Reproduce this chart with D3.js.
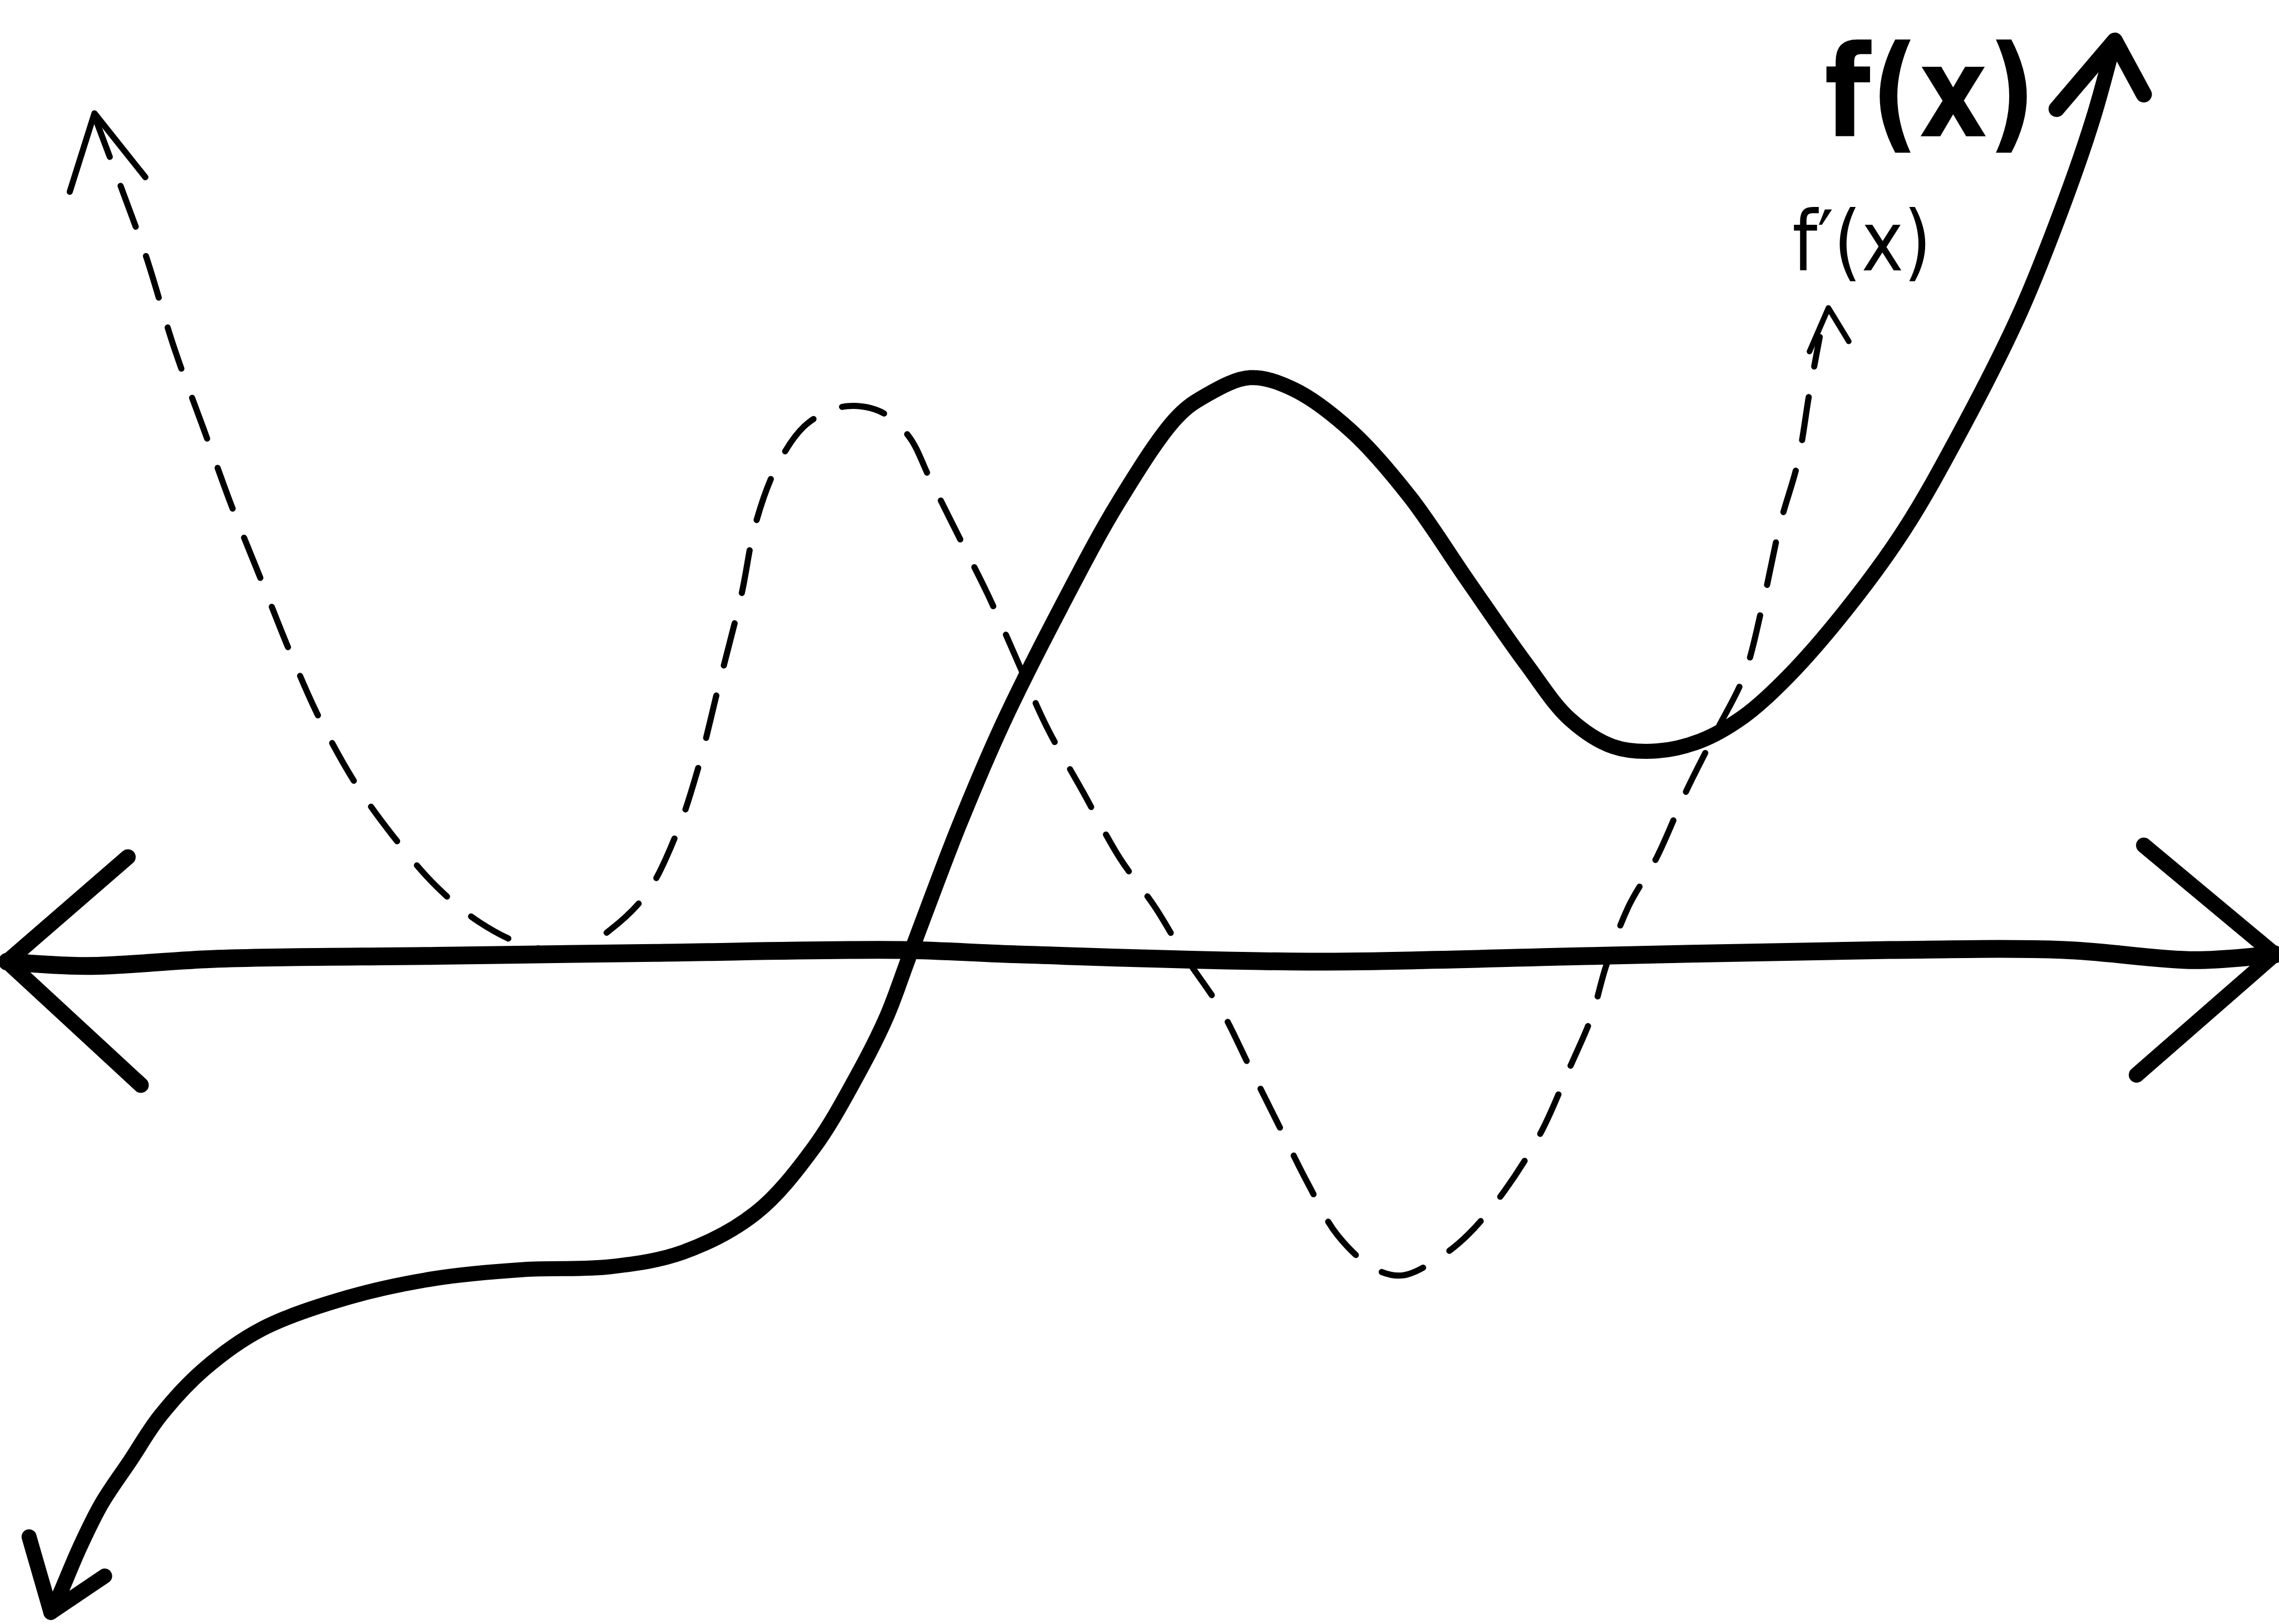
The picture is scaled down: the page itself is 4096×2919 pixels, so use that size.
<!DOCTYPE html>
<html>
<head>
<meta charset="utf-8">
<script src="https://cdn.jsdelivr.net/npm/d3@7"></script>
<style>
html,body{margin:0;padding:0;background:#fff;}
svg{display:block;}
</style>
</head>
<body>
<script>
// Data: sketch of a function f(x) and its derivative f'(x) (x-axis at y = 0)
const fX = [-5.90,-5.85,-5.70,-5.55,-5.35,-5.15,-4.85,-4.45,-3.85,-3.25,-2.65,-2.05,-1.55,-1.05,-0.65,-0.35,-0.15,0.00,0.15,0.35,0.65,1.05,1.45,1.85,2.05,2.35,2.65,3.05,3.45,3.85,4.25,4.55,4.85,5.15,5.45,5.75,6.05,6.45,6.85,7.25,7.65,7.95,8.15,8.28];
const fY = [-4.52,-4.42,-4.07,-3.77,-3.47,-3.17,-2.85,-2.57,-2.35,-2.22,-2.16,-2.14,-2.04,-1.77,-1.32,-0.82,-0.42,-0.02,0.38,0.90,1.60,2.40,3.13,3.71,3.86,3.98,3.90,3.61,3.16,2.58,2.01,1.63,1.44,1.41,1.48,1.65,1.92,2.38,2.93,3.63,4.43,5.18,5.76,6.23];

const dX = [-5.60,-5.45,-5.25,-5.05,-4.85,-4.65,-4.45,-4.25,-4.05,-3.80,-3.55,-3.25,-2.95,-2.65,-2.30,-2.05,-1.80,-1.60,-1.45,-1.30,-1.15,-1.05,-0.90,-0.70,-0.45,-0.20,0.00,0.15,0.35,0.55,0.75,0.95,1.20,1.45,1.70,1.90,2.15,2.35,2.55,2.75,2.95,3.20,3.40,3.65,3.85,4.10,4.35,4.55,4.70,4.80,4.95,5.15,5.35,5.55,5.75,5.88,6.00,6.12,6.20,6.27];
const dY = [5.78,5.38,4.83,4.18,3.63,3.08,2.58,2.08,1.63,1.18,0.83,0.48,0.23,0.08,0.03,0.18,0.43,0.83,1.28,1.88,2.48,2.98,3.38,3.66,3.78,3.75,3.58,3.28,2.88,2.48,2.03,1.58,1.13,0.68,0.33,0.00,-0.37,-0.77,-1.17,-1.57,-1.92,-2.15,-2.20,-2.08,-1.92,-1.62,-1.22,-0.77,-0.42,-0.07,0.33,0.68,1.13,1.53,1.93,2.43,2.98,3.40,3.88,4.26];

const axisX = [-6.20,-5.65,-4.75,-3.25,-1.75,-0.05,0.75,2.75,4.75,6.75,7.95,8.85,9.40];
const axisY = [-0.04,-0.07,-0.02,0.00,0.02,0.04,0.01,-0.04,0.00,0.04,0.04,-0.03,0.01];

// arrowheads: [barbA, tip, barbB]
const axisLeftHeadX = [-5.37,-6.20,-5.28], axisLeftHeadY = [0.68,-0.04,-0.89];
const axisRightHeadX = [8.50,9.40,8.45], axisRightHeadY = [0.76,0.01,-0.82];
const fTopHeadX = [7.90,8.30,8.50], fTopHeadY = [5.83,6.30,5.93];
const fBotHeadX = [-6.05,-5.90,-5.53], fBotHeadY = [-4.00,-4.52,-4.27];
const dLeftHeadX = [-5.77,-5.60,-5.25], dLeftHeadY = [5.26,5.80,5.36];
const dRightHeadX = [6.20,6.33,6.47], dRightHeadY = [4.16,4.46,4.23];

const labels = ["f(x)", "f\u2032(x)"];
const labelX = [7.03, 6.56];
const labelY = [5.64, 4.72];

const W = 4096, H = 2919;
const x = d3.scaleLinear().domain([-6.25, 9.43]).range([0, W]);
const y = d3.scaleLinear().domain([6.58, -4.60]).range([0, H]);

const svg = d3.select("body").append("svg").attr("width", W).attr("height", H);
svg.append("rect").attr("width", W).attr("height", H).attr("fill", "#fff");

const zip = (xs, ys) => xs.map((v, i) => [v, ys[i]]);
const smooth = d3.line().x(d => x(d[0])).y(d => y(d[1])).curve(d3.curveCatmullRom.alpha(0.5));
const straight = d3.line().x(d => x(d[0])).y(d => y(d[1]));

function draw(path, gen, w, dash) {
  const p = svg.append("path").attr("d", gen(path)).attr("fill", "none")
    .attr("stroke", "#000").attr("stroke-width", w)
    .attr("stroke-linecap", "round").attr("stroke-linejoin", "round");
  if (dash) p.attr("stroke-dasharray", dash);
  return p;
}

// x-axis
draw(zip(axisX, axisY), smooth, 32);
draw(zip(axisLeftHeadX, axisLeftHeadY), straight, 28);
draw(zip(axisRightHeadX, axisRightHeadY), straight, 28);

// f'(x) dashed
draw(zip(dX, dY), smooth, 11, "78 56");
draw(zip(dLeftHeadX, dLeftHeadY), straight, 11);
draw(zip(dRightHeadX, dRightHeadY), straight, 10);

// f(x)
draw(zip(fX, fY), smooth, 27);
draw(zip(fTopHeadX, fTopHeadY), straight, 29);
draw(zip(fBotHeadX, fBotHeadY), straight, 27);

// labels
svg.append("text").attr("x", x(labelX[0])).attr("y", y(labelY[0]))
  .attr("text-anchor", "middle").attr("font-family", "DejaVu Sans")
  .attr("font-weight", "bold").attr("font-size", 228)
  .attr("textLength", 380).attr("lengthAdjust", "spacingAndGlyphs")
  .text(labels[0]);
svg.append("text").attr("x", x(labelX[1])).attr("y", y(labelY[1]))
  .attr("text-anchor", "middle").attr("font-family", "DejaVu Sans")
  .attr("font-size", 150)
  .attr("textLength", 250).attr("lengthAdjust", "spacingAndGlyphs")
  .text(labels[1]);
</script>
</body>
</html>
